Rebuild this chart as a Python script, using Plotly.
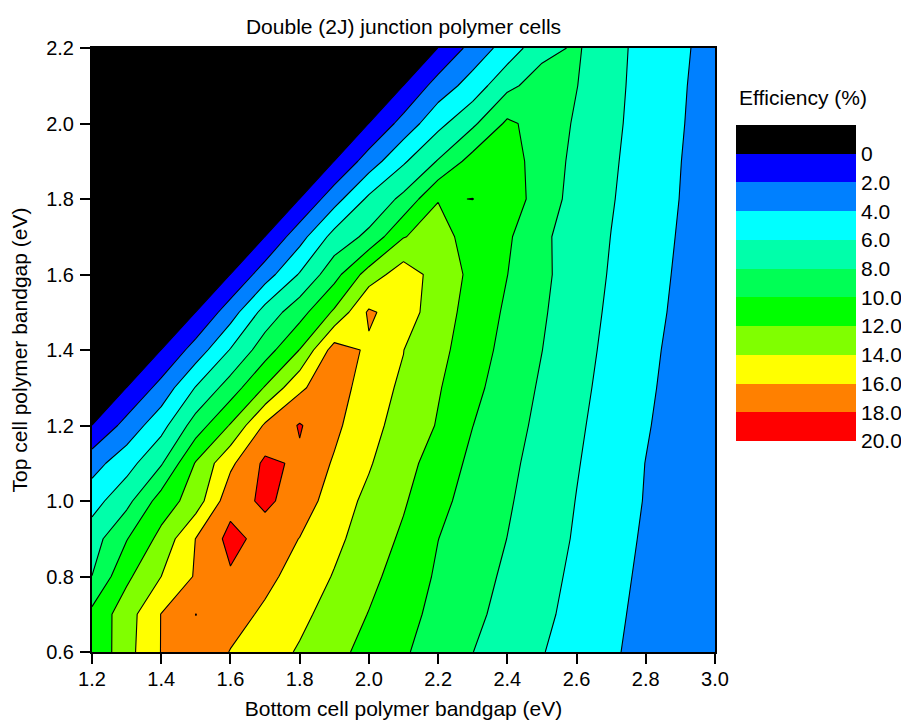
import plotly.graph_objects as go

# Grid coordinates (eV)
bottom_gap = [1.2, 1.3, 1.4, 1.5, 1.6, 1.7, 1.8, 1.9, 2.0, 2.1, 2.2, 2.3, 2.4, 2.5, 2.6, 2.7, 2.8, 2.9, 3.0]
top_gap = [0.6, 0.7, 0.8, 0.9, 1.0, 1.1, 1.2, 1.3, 1.4, 1.5, 1.6, 1.7, 1.8, 1.9, 2.0, 2.1, 2.2]

# Efficiency (%) rows, one per top-cell bandgap; -1 marks the invalid (black) region
eff_y060 = [10.3, 13.28, 16.06, 17.5, 15.92, 14.88, 13.8, 12.56, 11.37, 10.22, 9.11, 8.02, 7.05, 6.09, 5.16, 4.24, 3.4, 2.75, 2.25]
eff_y070 = [10.5, 13.1, 16.05, 18.02, 16.82, 15.65, 14.47, 13.23, 11.93, 10.63, 9.46, 8.42, 7.4, 6.4, 5.41, 4.44, 3.45, 2.7, 2.2]
eff_y080 = [8.02, 11.6, 14.0, 16.2, 17.77, 16.53, 15.2, 13.87, 12.53, 11.11, 9.74, 8.72, 7.68, 6.63, 5.6, 4.6, 3.6, 2.75, 2.0]
eff_y090 = [7.1, 9.9, 12.6, 16.05, 18.6, 17.3, 15.95, 14.46, 13.07, 11.67, 10.02, 8.99, 7.98, 6.89, 5.8, 4.77, 3.75, 2.85, 2.1]
eff_y100 = [5.2, 7.4, 10.9, 12.97, 17.3, 18.3, 17.3, 14.85, 13.59, 12.21, 10.52, 9.26, 8.21, 7.09, 5.95, 4.92, 3.9, 3.0, 2.2]
eff_y110 = [3.2, 5.2, 7.8, 12.16, 15.6, 18.4, 17.7, 15.77, 14.16, 12.71, 11.09, 9.56, 8.44, 7.29, 6.12, 5.05, 3.97, 3.0, 2.3]
eff_y120 = [0.01, 2.7, 5.3, 8.93, 12.16, 16.3, 18.15, 16.5, 14.4, 13.5, 11.83, 10.02, 8.75, 7.52, 6.3, 5.21, 4.16, 3.15, 2.4]
eff_y130 = [-1, 0.01, 2.7, 6.12, 8.93, 12.16, 15.6, 17.6, 14.4, 13.85, 12.17, 10.5, 9.07, 7.75, 6.5, 5.37, 4.32, 3.3, 2.5]
eff_y140 = [-1, -1, 0.01, 2.86, 6.12, 9.1, 12.05, 16.9, 15.7, 14.02, 12.5, 11.07, 9.29, 8.02, 6.71, 5.52, 4.46, 3.43, 2.6]
eff_y150 = [-1, -1, -1, 0.01, 3.08, 6.76, 9.23, 12.31, 16.3, 15.0, 12.9, 11.26, 9.68, 8.22, 6.9, 5.68, 4.63, 3.6, 2.7]
eff_y160 = [-1, -1, -1, -1, 0.01, 3.08, 6.17, 9.27, 12.91, 15.09, 13.18, 11.54, 10.02, 8.4, 7.06, 5.84, 4.77, 3.72, 2.8]
eff_y170 = [-1, -1, -1, -1, -1, 0.01, 3.23, 6.73, 8.5, 11.9, 13.0, 10.9, 10.3, 8.3, 7.25, 5.97, 4.9, 3.84, 2.9]
eff_y180 = [-1, -1, -1, -1, -1, -1, 0.01, 3.2, 6.4, 8.5, 11.9, 12.02, 11.2, 9.0, 7.3, 6.13, 5.02, 3.96, 3.0]
eff_y190 = [-1, -1, -1, -1, -1, -1, -1, 0.01, 2.94, 5.73, 8.14, 10.8, 11.0, 9.0, 7.55, 6.26, 5.13, 4.03, 3.0]
eff_y200 = [-1, -1, -1, -1, -1, -1, -1, -1, 0.01, 2.73, 5.43, 7.62, 10.36, 9.2, 7.76, 6.41, 5.23, 4.13, 3.1]
eff_y210 = [-1, -1, -1, -1, -1, -1, -1, -1, -1, 0.01, 2.86, 4.86, 7.51, 8.95, 8.05, 6.6, 5.2, 4.2, 3.2]
eff_y220 = [-1, -1, -1, -1, -1, -1, -1, -1, -1, -1, 0.01, 2.74, 4.84, 7.36, 8.26, 6.53, 5.45, 4.35, 3.2]

efficiency = [eff_y060, eff_y070, eff_y080, eff_y090, eff_y100, eff_y110, eff_y120, eff_y130,
              eff_y140, eff_y150, eff_y160, eff_y170, eff_y180, eff_y190, eff_y200, eff_y210, eff_y220]

# Colour legend bands
band_centers = [-1, 1, 3, 5, 7, 9, 11, 13, 15, 17, 19]
legend_ticks = [0, 2, 4, 6, 8, 10, 12, 14, 16, 18, 20]
legend_labels = ["0", "2.0", "4.0", "6.0", "8.0", "10.0", "12.0", "14.0", "16.0", "18.0", "20.0"]
x_ticks = [1.2, 1.4, 1.6, 1.8, 2.0, 2.2, 2.4, 2.6, 2.8, 3.0]
y_ticks = [0.6, 0.8, 1.0, 1.2, 1.4, 1.6, 1.8, 2.0, 2.2]

band_colors = ["#000000", "#0000FF", "#0080FF", "#00FFFF", "#00FFAA", "#00FF55",
               "#00FF00", "#80FF00", "#FFFF00", "#FF8000", "#FF0000", "#FF0000"]
colorscale = [[i / 11, c] for i, c in enumerate(band_colors)]

FONT = "Liberation Sans, Arial, sans-serif"

# The page body has an 8 px margin, so the figure is sized to the remaining area.
FIG_W, FIG_H = 901, 712
PL, PR, PT, PB = 84, 707, 40, 644        # plot area (figure pixels)
CB_L, CB_R, CB_T, CB_B = 728, 848, 117, 433  # colour legend box (figure pixels)

fig = go.Figure()
fig.add_trace(go.Contour(
    x=bottom_gap, y=top_gap, z=efficiency,
    autocontour=False,
    contours=dict(start=0, end=20, size=2, coloring="fill", showlines=True),
    line=dict(color="black", width=1.1, smoothing=0),
    colorscale=colorscale, showscale=False, hoverinfo="skip",
    xaxis="x", yaxis="y",
))
fig.add_trace(go.Heatmap(
    x=[0.5], y=band_centers, z=[[v] for v in band_centers],
    colorscale=colorscale, zmin=-1, zmax=21, showscale=False, hoverinfo="skip",
    xaxis="x2", yaxis="y2",
))

span_w = CB_R - PL
span_h = PB - PT
x_main_end = (PR - PL) / span_w
cb_x0 = (CB_L - PL) / span_w
cb_y0 = (PB - CB_B) / span_h
cb_y1 = (PB - CB_T) / span_h

axis_common = dict(showline=True, linecolor="black", linewidth=2, mirror=True,
                   ticks="outside", ticklen=10, tickwidth=1.5, tickcolor="black", showgrid=False,
                   zeroline=False, automargin=False,
                   tickfont=dict(family=FONT, size=20, color="black"))

fig.update_layout(
    width=FIG_W, height=FIG_H,
    margin=dict(l=PL, r=FIG_W - CB_R, t=PT, b=FIG_H - PB, autoexpand=False),
    paper_bgcolor="white", plot_bgcolor="white",
    font=dict(family=FONT, color="black"),
    title=dict(text="Double (2J) junction polymer cells", xref="paper", x=x_main_end / 2,
               xanchor="center", yref="container", y=1 - 19 / FIG_H, yanchor="middle",
               font=dict(family=FONT, size=21, color="black")),
    xaxis=dict(domain=[0, x_main_end], range=[1.2, 3.0], tickvals=x_ticks,
               tickformat=".1f", anchor="y", ticklabelstandoff=-2,
               title=dict(text="Bottom cell polymer bandgap (eV)", standoff=12,
                          font=dict(family=FONT, size=21, color="black")),
               **axis_common),
    yaxis=dict(domain=[0, 1], range=[0.6, 2.2], tickvals=y_ticks, tickformat=".1f",
               anchor="x", ticklabelstandoff=2,
               title=dict(text="Top cell polymer bandgap (eV)", standoff=16,
                          font=dict(family=FONT, size=21, color="black")),
               **axis_common),
    xaxis2=dict(domain=[cb_x0, 1], range=[0, 1], visible=False, anchor="y2",
                fixedrange=True, automargin=False),
    yaxis2=dict(domain=[cb_y0, cb_y1], range=[20, -2], anchor="x2", side="right",
                tickvals=legend_ticks, ticktext=legend_labels, ticks="", showline=False,
                showgrid=False, zeroline=False, fixedrange=True, automargin=False,
                ticklabelstandoff=4,
                tickfont=dict(family=FONT, size=21, color="black")),
    annotations=[dict(text="Efficiency (%)", xref="paper", yref="paper",
                      x=cb_x0 + 1 / span_w, y=(PB - 90) / span_h, xanchor="left", yanchor="middle",
                      showarrow=False, font=dict(family=FONT, size=21, color="black"))],
)

fig.write_html("out.html")
